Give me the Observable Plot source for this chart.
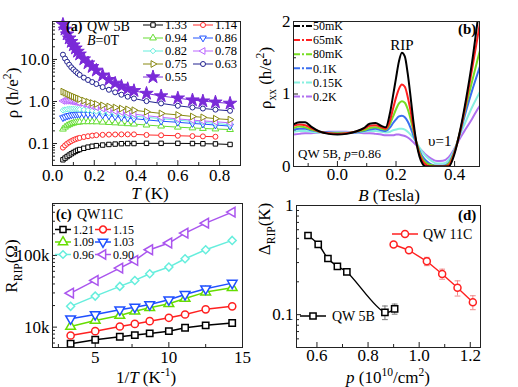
<!DOCTYPE html>
<html><head><meta charset="utf-8">
<script src="https://cdn.jsdelivr.net/npm/d3@7"></script>
<script src="https://cdn.jsdelivr.net/npm/@observablehq/plot@0.6"></script>
<style>
html,body{margin:0;padding:0;background:#fff;}
#fig{position:relative;width:518px;height:387px;overflow:hidden;background:#fff;}
#fig svg{position:absolute;left:0;top:0;}
#fig svg text{font-family:"Liberation Serif","Times New Roman",serif;}
</style></head><body><div id="fig"></div>
<script>
// ---------------- DATA ----------------
// (a) QW 5B, B=0T : rho (h/e^2) vs T (K) for several densities
const aDensities = ["1.33","1.14","0.94","0.86","0.82","0.78","0.75","0.63","0.55"];
const aTemp = [0.05,0.06,0.07,0.08,0.09,0.10,0.11,0.12,0.13,0.15,0.17,0.19,0.21,0.24,0.27,0.30,0.33,0.36,0.39,0.45,0.52,0.60,0.67,0.72,0.78,0.85];
const aRho133 = [0.041,0.045,0.049,0.053,0.057,0.061,0.065,0.069,0.072,0.077,0.082,0.086,0.089,0.092,0.095,0.097,0.099,0.100,0.100,0.101,0.101,0.101,0.100,0.099,0.098,0.095];
const aRho114 = [0.080,0.090,0.099,0.107,0.114,0.121,0.127,0.132,0.136,0.143,0.149,0.154,0.158,0.161,0.163,0.164,0.165,0.165,0.165,0.160,0.157,0.153,0.150,0.148,0.145,null];
const aRho094 = [0.22,0.245,0.265,0.28,0.295,0.305,0.315,0.32,0.325,0.33,0.33,0.33,0.328,0.322,0.316,0.31,0.303,0.296,0.29,0.275,0.26,0.245,0.235,0.228,0.222,0.215];
const aRho086 = [0.41,0.43,0.45,0.465,0.478,0.488,0.495,0.5,0.5,0.5,0.498,0.494,0.488,0.475,0.455,0.44,0.42,0.405,0.39,0.365,0.34,0.32,0.30,0.29,0.275,0.26];
const aRho082 = [0.62,0.64,0.655,0.66,0.665,0.665,0.66,0.655,0.65,0.635,0.62,0.60,0.58,0.555,0.53,0.51,0.49,0.47,0.45,0.42,0.39,0.36,0.335,0.32,0.30,0.28];
const aRho078 = [1.03,1.04,1.04,1.03,1.01,0.99,0.97,0.95,0.92,0.87,0.82,0.77,0.73,0.68,0.63,0.59,0.56,0.53,0.50,0.46,0.42,0.385,0.36,0.345,0.33,0.31];
const aRho075 = [1.72,1.62,1.53,1.45,1.38,1.31,1.25,1.19,1.14,1.05,0.98,0.92,0.87,0.81,0.76,0.72,0.68,0.65,0.62,0.57,0.52,0.48,0.44,0.42,0.39,0.37];
const aRho063 = [13.0,10.5,8.8,7.5,6.5,5.8,5.2,4.7,4.3,3.7,3.25,2.9,2.6,2.2,1.9,1.65,1.45,1.3,1.18,1.02,0.9,0.79,0.72,0.68,0.64,0.60];
const aRho055 = [68,52,40,32,26.5,22,18.5,15.5,13.3,10.2,8.2,6.7,5.5,4.2,3.3,2.7,2.3,2.0,1.8,1.55,1.35,1.2,1.08,1.02,0.96,0.90];
const aXTicks = [0,0.2,0.4,0.6,0.8];
const aYTicks = [0.1,1,10];

// (b) QW 5B, p=0.86 : rho_xx (h/e^2) vs B (Tesla) for several temperatures
const bLabels = ["50mK","65mK","80mK","0.1K","0.15K","0.2K"];
const bField = [-0.15,-0.13,-0.11,-0.09,-0.06,-0.03,0.00,0.03,0.06,0.09,0.11,0.13,0.15,0.165,0.18,0.19,0.20,0.21,0.22,0.23,0.24,0.25,0.26,0.27,0.28,0.29,0.30,0.32,0.34,0.36,0.38,0.40,0.42,0.44,0.46,0.48,0.50];
const bRho50  = [0.58,0.61,0.61,0.55,0.48,0.45,0.44, 0.45,0.48,0.53,0.59,0.60,0.56,0.54, 0.75,0.98,1.22,1.45,1.57,1.52,1.28, 0.95,0.60,0.32,0.14,0.04,0.0, 0.0,0.0,0.0,0.0, 0.18,0.52,0.95,1.45,2.05,2.6];
const bRho65  = [0.56,0.58,0.57,0.53,0.48,0.46,0.45, 0.46,0.48,0.52,0.56,0.57,0.54,0.52, 0.64,0.80,0.95,1.07,1.13,1.10,0.96, 0.76,0.52,0.32,0.17,0.08,0.03, 0.0,0.0,0.0,0.02, 0.2,0.5,0.9,1.35,1.82,2.3];
const bRho80  = [0.53,0.55,0.54,0.51,0.48,0.46,0.46, 0.46,0.48,0.50,0.53,0.54,0.52,0.51, 0.59,0.69,0.79,0.87,0.90,0.88,0.79, 0.65,0.48,0.33,0.20,0.11,0.06, 0.02,0.0,0.0,0.04, 0.21,0.5,0.85,1.18,1.5,1.8];
const bRho100 = [0.51,0.52,0.52,0.50,0.48,0.47,0.46, 0.46,0.47,0.49,0.51,0.52,0.50,0.49, 0.54,0.60,0.65,0.69,0.70,0.68,0.62, 0.53,0.42,0.32,0.22,0.14,0.09, 0.03,0.01,0.01,0.05, 0.22,0.48,0.78,1.05,1.3,1.55];
const bRho150 = [0.48,0.49,0.49,0.48,0.47,0.47,0.47, 0.47,0.47,0.48,0.49,0.49,0.48,0.47, 0.48,0.50,0.51,0.52,0.52,0.51,0.48, 0.44,0.39,0.33,0.26,0.20,0.15, 0.08,0.04,0.04,0.09, 0.24,0.45,0.64,0.82,0.98,1.14];
const bRho200 = [0.44,0.45,0.46,0.46,0.47,0.48,0.48, 0.48,0.47,0.46,0.46,0.45,0.44,0.43, 0.43,0.43,0.44,0.44,0.43,0.42,0.40, 0.37,0.33,0.29,0.25,0.21,0.17, 0.11,0.075,0.08,0.13, 0.25,0.40,0.53,0.66,0.80,0.92];
const bXTicks = [0,0.2,0.4];
const bYTicks = [0,1,2];

// (c) QW11C : R_RIP (Ohm) vs 1/T (1/K)
const cDensities = ["1.21","1.15","1.09","1.03","0.96","0.90"];
const cInvT = [3.33,5,6.67,7.69,8.7,10,11.1,12.5,14.3];
const cR121 = [5860,6670,7350,7740,8170,8790,9810,10600,11400];
const cR115 = [7650,8790,10200,11100,12100,13500,15000,17700,19500];
const cR109 = [10200,12400,14500,16700,18600,21200,25100,30800,35500];
const cR103 = [13100,15000,17500,19000,20700,24100,28600,34300,41100];
const cR096 = [19500,27100,37000,44800,55500,68800,89900,120000,162000];
const cR090 = [29800,44800,66600,85100,120000,149000,205000,282000,402000];
const cXTicks = [5,10,15];
const cYTicks = [1e4,1e5];

// (d) Delta_RIP (K) vs p (1e10/cm^2)
const dSamples = ["QW 5B","QW 11C"];
const d5BDensity = [0.565,0.605,0.643,0.68,0.717,0.866,0.904];
const d5BGap = [0.531,0.441,0.327,0.277,0.246,0.105,0.113];
const d5BErr = [0,0,0,0,0,0.015,0.012];
const d11CDensity = [0.90,0.96,1.03,1.09,1.15,1.21];
const d11CGap = [0.439,0.389,0.308,0.236,0.176,0.130];
const d11CErr = [0.008,0.014,0.027,0.025,0.028,0.019];
const dXTicks = [0.6,0.8,1.0,1.2];
const dYTicks = [0.1,1];

// ---------------- STYLES ----------------
const W = 518, H = 387;
const FONT = "Liberation Serif";
const baseStyle = {background:"transparent", fontFamily: FONT, fontSize:"17px", color:"#000", overflow:"visible"};
const aColors = ["#000000","#ff2a2a","#66dd33","#2255ff","#66eedd","#bb66ff","#888811","#22228f","#7a2ad8"];
const aSymbols = ["square","circle","triangle","triangle","diamond2","triangle","triangle","circle","star"];
const aRotate = [0,0,0,180,0,-90,90,0,0];
const bColors = ["#000000","#ff2020","#77dd22","#3a6ff0","#88f0e0","#b070f0"];
const cColors = ["#000000","#ff2020","#66dd00","#1f4fff","#66eedd","#aa55ee"];
const cSymbols = ["square","circle","triangle","triangle","diamond2","triangle"];
const cRotate = [0,0,0,180,0,-90];
const dColors = ["#000000","#ff2020"];
const dErrColors = ["#777777","#f08a8a"];
const SYM = {square:d3.symbolSquare, circle:d3.symbolCircle, triangle:d3.symbolTriangle, diamond2:d3.symbolDiamond2, star:d3.symbolStar};
const capSymbol = {draw(ctx, size){const w=Math.sqrt(size)*0.9; ctx.moveTo(-w,0); ctx.lineTo(w,0);}};

// ---------------- HELPERS ----------------
const fig = document.getElementById("fig");
function box(x0,x1,y0,y1){return {width:W,height:H,marginLeft:x0,marginRight:W-x1,marginTop:y0,marginBottom:H-y1};}
function ticksBottom(vals,fh,len){return Plot.tickX(vals,{x:d=>d,insetTop:fh-len,stroke:"#222",strokeWidth:1});}
function ticksLeft(vals,fw,len){return Plot.tickY(vals,{y:d=>d,insetRight:fw-len,stroke:"#222",strokeWidth:1});}
function logMinor(lo,hi){const out=[];for(let e=Math.floor(Math.log10(lo));e<=Math.ceil(Math.log10(hi));e++){for(let m=2;m<=9;m++){const v=m*Math.pow(10,e);if(v>lo&&v<hi)out.push(v);}}return out;}
function rich(svg,x,y,parts,{size=16,anchor="start",rotate=0,weight="normal"}={}){
  const t=d3.select(svg).append("text").attr("transform",`translate(${x},${y}) rotate(${rotate})`)
    .attr("text-anchor",anchor).attr("font-size",size).attr("font-weight",weight)
    .attr("font-family",FONT).attr("fill","#000");
  let shift=0;
  for(const p of parts){
    const [s,o]=typeof p==="string"?[p,{}]:p;
    const ts=t.append("tspan").text(s);
    const target=o.sub?size*0.3:o.sup?-size*0.4:0;
    if(target!==shift){ts.attr("dy",target-shift);shift=target;}
    if(o.sub||o.sup)ts.attr("font-size",size*0.68);
    if(o.italic)ts.attr("font-style","italic");
    if(o.bold)ts.attr("font-weight","bold");
  }
}
function legendItem(svg,{x1,x2,y,color,symbol,rotate=0,r=3,fill="white",label,labelX,size=12.5,dash=null,lw=1}){
  const g=d3.select(svg).append("g");
  g.append("line").attr("x1",x1).attr("x2",x2).attr("y1",y).attr("y2",y).attr("stroke",color).attr("stroke-width",lw).attr("stroke-dasharray",dash);
  if(symbol) g.append("path").attr("d",d3.symbol(SYM[symbol],Math.PI*r*r)()).attr("transform",`translate(${(x1+x2)/2},${y}) rotate(${rotate})`).attr("fill",fill).attr("stroke",color).attr("stroke-width",lw);
  g.append("text").attr("x",labelX).attr("y",y).attr("dy","0.35em").attr("text-anchor","start").attr("font-size",size).attr("font-family",FONT).attr("fill","#000").text(label);
}

// ---------------- PANEL (a) ----------------
const aSeries=[aRho133,aRho114,aRho094,aRho086,aRho082,aRho078,aRho075,aRho063,aRho055];
const aData=aSeries.map((arr,k)=>aTemp.map((t,i)=>({T:t,rho:arr[i],p:aDensities[k]})).filter(d=>d.rho!=null));
const A={x0:52,x1:240,y0:21,y1:165};
const plotA=Plot.plot({
  ...box(A.x0,A.x1,A.y0,A.y1), style:baseStyle,
  x:{domain:[0,0.9]}, y:{type:"log",domain:[0.03,80]},
  marks:[
    ticksBottom(aXTicks,A.y1-A.y0,5), ticksBottom([0.1,0.3,0.5,0.7],A.y1-A.y0,3),
    ticksLeft(aYTicks,A.x1-A.x0,5), ticksLeft(logMinor(0.03,80),A.x1-A.x0,3),
    Plot.axisX({ticks:aXTicks,tickSize:0,tickPadding:3,tickFormat:d=>d.toFixed(1),label:null}),
    Plot.axisY({ticks:aYTicks,tickSize:0,tickPadding:3,tickFormat:d=>d.toFixed(1),label:null}),
    ...aData.flatMap((data,k)=>[
      Plot.line(data,{x:"T",y:"rho",stroke:aColors[k],strokeWidth:1}),
      Plot.dot(data,{x:"T",y:"rho",symbol:aSymbols[k],rotate:aRotate[k],r:k===8?4.2:2.5,stroke:aColors[k],fill:k===8?aColors[k]:"white",strokeWidth:1})
    ]),
    Plot.frame({stroke:"#222"})
  ]
});
fig.appendChild(plotA);
rich(plotA,66,31,[["(a)",{bold:true}]],{size:14});
rich(plotA,87,31,["QW 5B"],{size:14});
rich(plotA,87,45,[["B",{italic:true}],"=0T"],{size:14});
aDensities.forEach((lab,k)=>{
  const col=k%2, row=Math.floor(k/2);
  const x1=col?193:143;
  legendItem(plotA,{x1,x2:x1+20,y:25+13*row,color:aColors[k],symbol:aSymbols[k],rotate:aRotate[k],r:k===8?4.2:2.5,fill:k===8?aColors[k]:"white",label:lab,labelX:x1+22,size:12.5});
});
rich(plotA,18,93,["ρ (h/e",["2",{sup:true}],")"],{size:17,anchor:"middle",rotate:-90});
rich(plotA,150,199,[["T",{italic:true}]," (K)"],{size:17,anchor:"middle"});

// ---------------- PANEL (b) ----------------
const bSeries=[bRho50,bRho65,bRho80,bRho100,bRho150,bRho200];
const bData=bSeries.map((arr,k)=>bField.map((b,i)=>({B:b,rho:arr[i],t:bLabels[k]})));
const Bp={x0:293,x1:479,y0:21,y1:166};
const plotB=Plot.plot({
  ...box(Bp.x0,Bp.x1,Bp.y0,Bp.y1), style:baseStyle,
  x:{domain:[-0.15,0.485]}, y:{domain:[0,2]},
  marks:[
    ticksBottom(bXTicks,Bp.y1-Bp.y0,5), ticksBottom([-0.1,0.1,0.3],Bp.y1-Bp.y0,3),
    ticksLeft(bYTicks,Bp.x1-Bp.x0,5), ticksLeft([0.5,1.5],Bp.x1-Bp.x0,3),
    Plot.axisX({ticks:bXTicks,tickSize:0,tickPadding:1,tickFormat:d=>d.toFixed(1),label:null}),
    Plot.axisY({ticks:bYTicks,tickSize:0,tickPadding:3,tickFormat:d=>String(d),label:null}),
    ...bData.slice().reverse().map((data,j)=>{const k=bData.length-1-j;return Plot.line(data,{x:"B",y:"rho",stroke:bColors[k],strokeWidth:2,curve:"monotone-x",clip:true});}),
    Plot.frame({stroke:"#222"})
  ]
});
fig.appendChild(plotB);
bLabels.forEach((lab,k)=>{
  legendItem(plotB,{x1:294,x2:312,y:26+14.1*k,color:bColors[k],symbol:null,label:lab,labelX:313,size:12,dash:"6,2,2,2",lw:2});
});
rich(plotB,402,50,["RIP"],{size:15,anchor:"middle"});
rich(plotB,458,34,[["(b)",{bold:true}]],{size:15});
rich(plotB,428,146,["υ=1"],{size:15});
rich(plotB,298,158,["QW 5B, ",["p",{italic:true}],"=0.86"],{size:13});
rich(plotB,271,78,["ρ",["xx",{sub:true}]," (h/e",["2",{sup:true}],")"],{size:17,anchor:"middle",rotate:-90});
rich(plotB,389,201,[["B",{italic:true}]," (Tesla)"],{size:17,anchor:"middle"});

// ---------------- PANEL (c) ----------------
const cSeries=[cR121,cR115,cR109,cR103,cR096,cR090];
const cData=cSeries.map((arr,k)=>cInvT.map((x,i)=>({invT:x,R:arr[i],p:cDensities[k]})));
const C={x0:52,x1:242,y0:203,y1:347};
const plotC=Plot.plot({
  ...box(C.x0,C.x1,C.y0,C.y1), style:baseStyle,
  x:{domain:[2.1,15]}, y:{type:"log",domain:[5200,530000]},
  marks:[
    ticksBottom(cXTicks,C.y1-C.y0,5), ticksBottom([2.5,7.5,12.5],C.y1-C.y0,3),
    ticksLeft(cYTicks,C.x1-C.x0,5), ticksLeft(logMinor(5200,530000),C.x1-C.x0,3),
    Plot.axisX({ticks:cXTicks,tickSize:0,tickPadding:3,tickFormat:d=>String(d),label:null}),
    Plot.axisY({ticks:cYTicks,tickSize:0,tickPadding:3,tickFormat:d=>(d/1000)+"k",label:null}),
    ...cData.flatMap((data,k)=>[
      Plot.line(data,{x:"invT",y:"R",stroke:cColors[k],strokeWidth:1.5}),
      Plot.dot(data,{x:"invT",y:"R",symbol:cSymbols[k],rotate:cRotate[k],r:3.6,stroke:cColors[k],fill:"white",strokeWidth:1.5})
    ]),
    Plot.frame({stroke:"#222"})
  ]
});
fig.appendChild(plotC);
rich(plotC,56,219,[["(c)",{bold:true}]],{size:14});
rich(plotC,77,219,["QW11C"],{size:14});
cDensities.forEach((lab,k)=>{
  const col=k%2,row=Math.floor(k/2);
  const x1=col?95:55;
  legendItem(plotC,{x1,x2:x1+16,y:229.5+12.5*row,color:cColors[k],symbol:cSymbols[k],rotate:cRotate[k],r:3.4,label:lab,labelX:x1+18,size:12,lw:1.5});
});
rich(plotC,17,266,["R",["RIP",{sub:true}],"(Ω)"],{size:17,anchor:"middle",rotate:-90});
rich(plotC,146,383,["1/",["T",{italic:true}]," (K",["-1",{sup:true}],")"],{size:17,anchor:"middle"});

// ---------------- PANEL (d) ----------------
const d5B=d5BDensity.map((p,i)=>({p,gap:d5BGap[i],lo:d5BGap[i]-d5BErr[i],hi:d5BGap[i]+d5BErr[i],err:d5BErr[i]}));
const d11C=d11CDensity.map((p,i)=>({p,gap:d11CGap[i],lo:d11CGap[i]-d11CErr[i],hi:d11CGap[i]+d11CErr[i],err:d11CErr[i]}));
const dSets=[d5B,d11C];
const D={x0:296,x1:480,y0:205,y1:347};
const plotD=Plot.plot({
  ...box(D.x0,D.x1,D.y0,D.y1), style:baseStyle,
  x:{domain:[0.52,1.24]}, y:{type:"log",domain:[0.05,1]},
  marks:[
    ticksBottom(dXTicks,D.y1-D.y0,5), ticksBottom([0.7,0.9,1.1],D.y1-D.y0,3),
    ticksLeft(dYTicks,D.x1-D.x0,5), ticksLeft(logMinor(0.05,1),D.x1-D.x0,3),
    Plot.axisX({ticks:dXTicks,tickSize:0,tickPadding:1,tickFormat:d=>d.toFixed(1),label:null}),
    Plot.axisY({ticks:dYTicks,tickSize:0,tickPadding:3,tickFormat:d=>d===1?"1":"0.1",label:null}),
    ...dSets.flatMap((data,k)=>{
      const e=data.filter(d=>d.err>0);
      return [
        Plot.ruleX(e,{x:"p",y1:"lo",y2:"hi",stroke:dErrColors[k],strokeWidth:1}),
        Plot.dot(e,{x:"p",y:"lo",symbol:capSymbol,r:1.8,stroke:dErrColors[k],strokeWidth:1}),
        Plot.dot(e,{x:"p",y:"hi",symbol:capSymbol,r:1.8,stroke:dErrColors[k],strokeWidth:1}),
        Plot.line(data,{x:"p",y:"gap",stroke:dColors[k],strokeWidth:1.4,curve:k===0?"catmull-rom":"linear"}),
        Plot.dot(data,{x:"p",y:"gap",symbol:k===0?"square":"circle",r:3.5,stroke:dColors[k],fill:"white",strokeWidth:1.5})
      ];
    }),
    Plot.frame({stroke:"#222"})
  ]
});
fig.appendChild(plotD);
legendItem(plotD,{x1:392,x2:418,y:234,color:dColors[1],symbol:"circle",r:3.5,label:dSamples[1],labelX:423,size:14,lw:1.5});
legendItem(plotD,{x1:300,x2:326,y:316,color:dColors[0],symbol:"square",r:3.5,label:dSamples[0],labelX:332,size:14,lw:1.5});
rich(plotD,458,220,[["(d)",{bold:true}]],{size:15});
rich(plotD,270,229,["Δ",["RIP",{sub:true}],"(K)"],{size:17,anchor:"middle",rotate:-90});
rich(plotD,388,383,[["p",{italic:true}]," (10",["10",{sup:true}],"/cm",["2",{sup:true}],")"],{size:17,anchor:"middle"});
</script></body></html>
